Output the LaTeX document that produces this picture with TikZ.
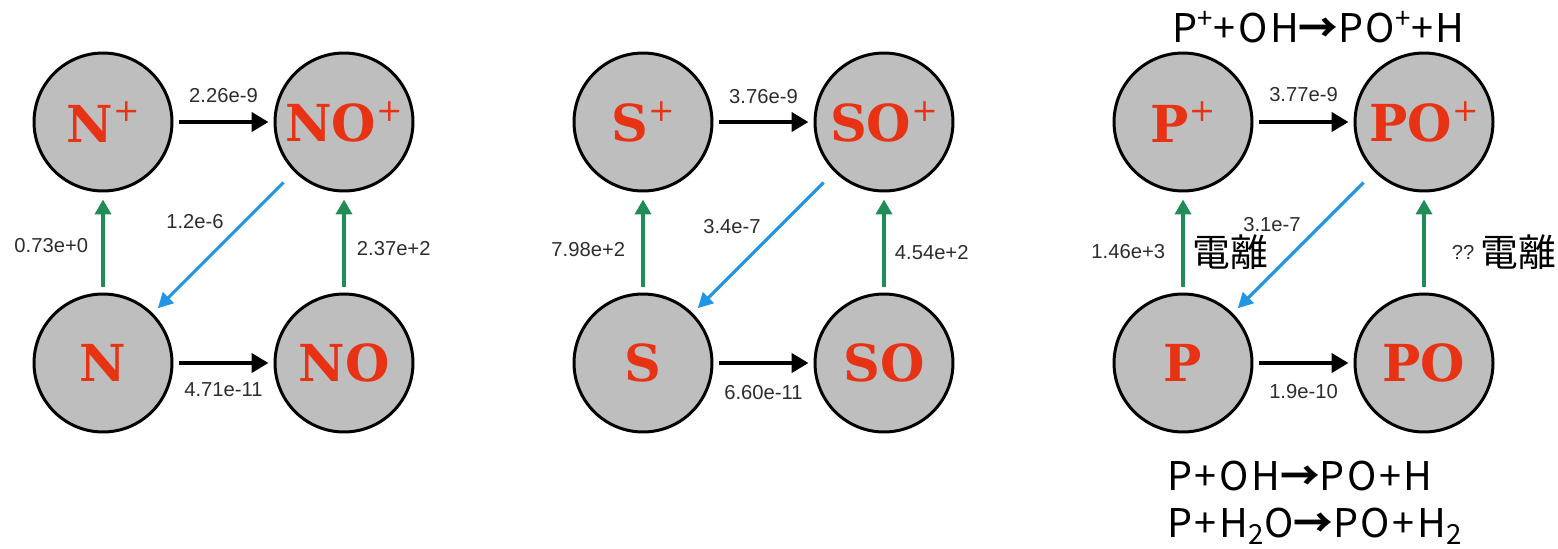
\documentclass[tikz,border=0pt]{standalone}
\usepackage{fontspec}
\usepackage{xcolor}
\setmainfont{Liberation Sans}
\newfontfamily\ballfont{DejaVu Serif}
\newfontfamily\cjk{Noto Sans CJK JP}
\newfontfamily\cjkeq{Noto Sans CJK JP}[LetterSpace=6.5]
\usetikzlibrary{arrows.meta,positioning}

\definecolor{ballgray}{RGB}{190,190,190}
\definecolor{ballred}{RGB}{232,50,20}
\definecolor{ionize}{RGB}{32,140,88}
\definecolor{recomb}{RGB}{34,150,230}
\definecolor{ratetxt}{RGB}{45,45,45}

% ion name with a raised plus
\newcommand{\ionlabel}[1]{#1\raisebox{0.4em}{\fontsize{18}{18}\selectfont\mdseries +}}

\begin{document}
\begin{tikzpicture}[x=0.02cm, y=-0.02cm,
    ball/.style={circle, draw=black, line width=1.7pt, fill=ballgray, minimum size=2.76cm,
                 inner sep=0pt, text=ballred, font=\ballfont\bfseries\fontsize{29}{29}\selectfont},
    rate/.style={inner sep=0pt, text=ratetxt, font=\fontsize{11.5}{12}\selectfont},
    fwd/.style={line width=2.6pt, -{Triangle[length=0.34cm,width=0.38cm]}, shorten <=0.12cm, shorten >=0.1cm},
    ionz/.style={ionize, line width=2.2pt, -{Triangle[length=0.3cm,width=0.32cm]}, shorten <=0.12cm, shorten >=0.14cm},
    back/.style={recomb, line width=1.8pt, -{Triangle[length=0.3cm,width=0.3cm]}, shorten <=0.3cm, shorten >=0.14cm},
    jp/.style={inner sep=0pt, text=black, font=\cjk\fontsize{21.5}{24}\selectfont},
    eqn/.style={inner sep=0pt, text=black, anchor=base west, font=\cjkeq\fontsize{22.5}{24}\selectfont}]
  \useasboundingbox (0,0) rectangle (1558,548);

  % nitrogen
  \node[ball] (Np)  at (103,122) {\ionlabel{N}};
  \node[ball] (NOp) at (344,122) {\ionlabel{NO}};
  \node[ball] (N)   at (103,363) {N};
  \node[ball] (NO)  at (344,363) {NO};
  \draw[fwd] (Np) -- node[rate,above=0.35cm] {2.26e-9} (NOp);
  \draw[fwd] (N) -- node[rate,below=0.35cm] {4.71e-11} (NO);
  \draw[ionz] (N) -- node[rate,left=0.26cm,yshift=-0.06cm] {0.73e+0} (Np);
  \draw[ionz] (NO) -- node[rate,right=0.22cm,yshift=-0.12cm] {2.37e+2} (NOp);
  \draw[back] (NOp) -- node[rate,xshift=-0.57cm,yshift=0.41cm] {1.2e-6} (N);

  % sulfur
  \node[ball] (Sp)  at (643,122) {\ionlabel{S}};
  \node[ball] (SOp) at (884,122) {\ionlabel{SO}};
  \node[ball] (S)   at (643,363) {S};
  \node[ball] (SO)  at (884,363) {SO};
  \draw[fwd] (Sp) -- node[rate,above=0.33cm] {3.76e-9} (SOp);
  \draw[fwd] (S) -- node[rate,below=0.4cm] {6.60e-11} (SO);
  \draw[ionz] (S) -- node[rate,left=0.32cm,yshift=-0.15cm] {7.98e+2} (Sp);
  \draw[ionz] (SO) -- node[rate,right=0.18cm,yshift=-0.2cm] {4.54e+2} (SOp);
  \draw[back] (SOp) -- node[rate,xshift=-0.63cm,yshift=0.31cm] {3.4e-7} (S);

  % phosphorus
  \node[ball] (Pp)  at (1183,122) {\ionlabel{P}};
  \node[ball] (POp) at (1424,122) {\ionlabel{PO}};
  \node[ball] (P)   at (1183,363) {P};
  \node[ball] (PO)  at (1424,363) {PO};
  \draw[fwd] (Pp) -- node[rate,above=0.36cm] {3.77e-9} (POp);
  \draw[fwd] (P) -- node[rate,below=0.38cm] {1.9e-10} (PO);
  \draw[ionz] (P) -- node[rate,left=0.32cm,yshift=-0.19cm] {1.46e+3}
                     node[jp,right=0.16cm,yshift=-0.19cm] (ionA) {電離} (Pp);
  \draw[ionz] (PO) -- node[rate,right=0.52cm,yshift=-0.19cm] (unk) {??} (POp);
  \node[jp,right=0.08cm of unk] (ionB) {電離};
  \draw[back] (POp) -- node[rate,xshift=-0.63cm,yshift=0.35cm] {3.1e-7} (P);

  % reactions
  \node[eqn] (eqtop) at (1172,42) {P\textsuperscript{+}+OH{\bfseries →}PO\textsuperscript{+}+H};
  \node[eqn] (eqoh)  at (1167,490) {P+OH{\bfseries →}PO+H};
  \node[eqn] (eqwat) at (1167,537) {P+H\textsubscript{2}O{\bfseries →}PO+H\textsubscript{2}};
\end{tikzpicture}
\end{document}
